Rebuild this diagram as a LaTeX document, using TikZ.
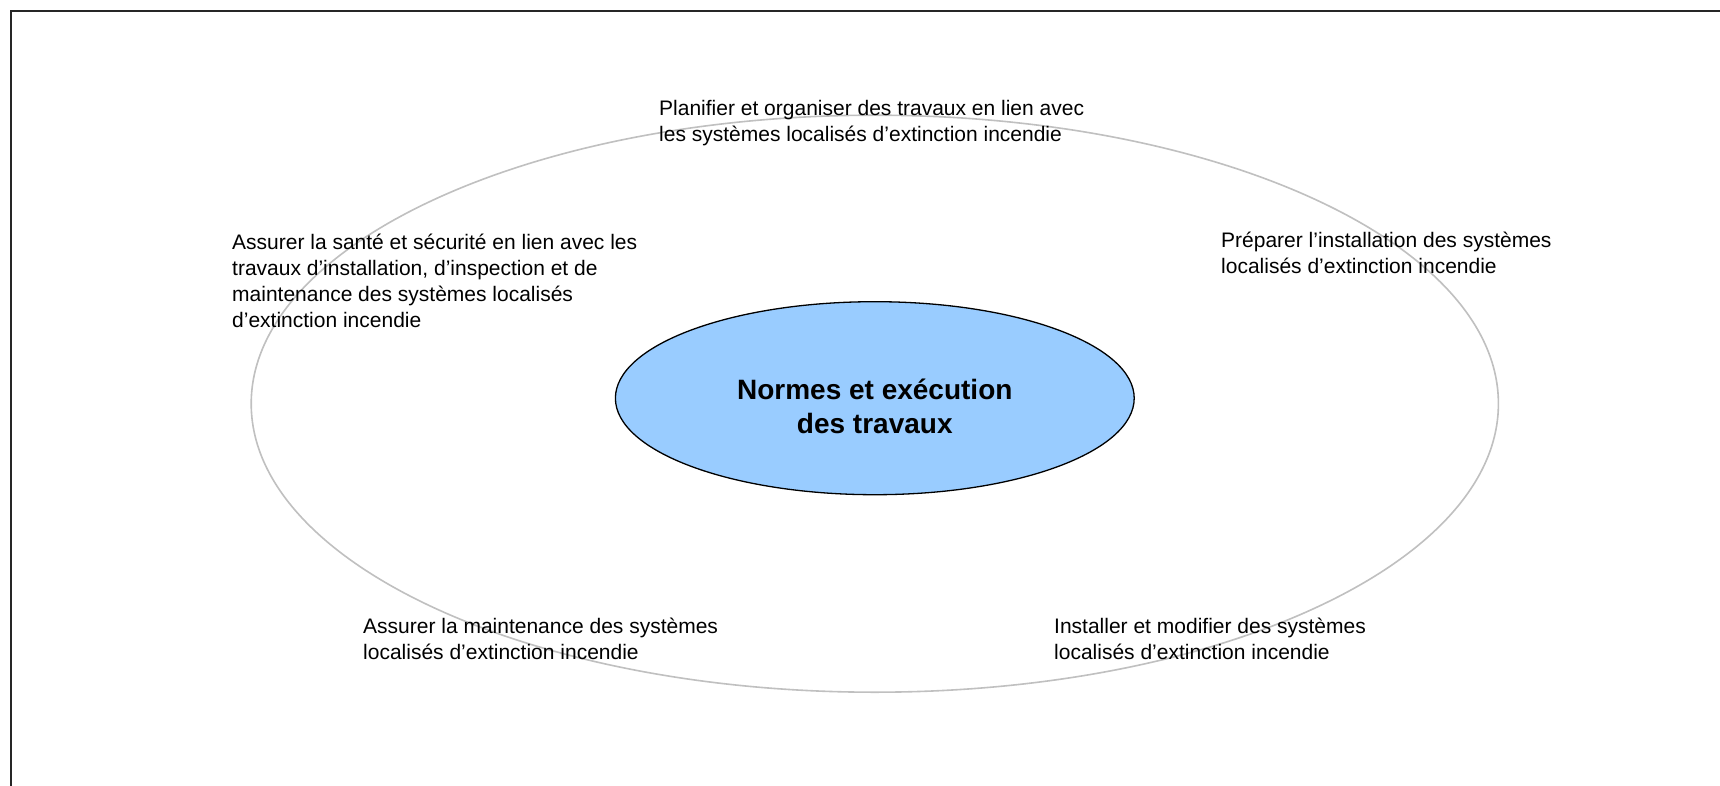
\documentclass[tikz,border=0pt]{standalone}
\usepackage{fontspec}
\setmainfont{Liberation Sans}
\usetikzlibrary{shapes.geometric}
\definecolor{coreblue}{HTML}{99CCFF}
\definecolor{ringgray}{HTML}{C0C0C0}
\begin{document}
\begin{tikzpicture}[x=1pt,y=-1pt,
  lbl/.style={font=\fontsize{21}{26}\selectfont, align=left, anchor=base west, inner sep=0pt},
  corelbl/.style={font=\fontsize{28}{34}\selectfont\bfseries, align=center, inner sep=0pt}]
\useasboundingbox (0,0) rectangle (1720,786);
\fill[white] (0,0) rectangle (1720,786);
% frame (open at right and bottom)
\draw[line width=2pt, black!85] (11,786) -- (11,11.5) -- (1720,11.5);
% outer ring
\draw[ringgray, line width=1.6pt] (874.8,403.7) ellipse [x radius=623.6, y radius=288.5];
% core ellipse
\node[ellipse, draw=black, line width=1.3pt, fill=coreblue, minimum width=518.8pt, minimum height=193pt, inner sep=0pt] (core) at (874.8,398.2) {};
\node[corelbl] (coretext) at (874.8,406) {Normes et exécution\\des travaux};
% labels (anchor = baseline of the last line)
\node[lbl] (plan) at (659,142) {Planifier et organiser des travaux en lien avec\\les systèmes localisés d’extinction incendie};
\node[lbl] (prep) at (1221,273) {Préparer l’installation des systèmes\\localisés d’extinction incendie};
\node[lbl] (sante) at (232,327) {Assurer la santé et sécurité en lien avec les\\travaux d’installation, d’inspection et de\\maintenance des systèmes localisés\\d’extinction incendie};
\node[lbl] (maint) at (363,659) {Assurer la maintenance des systèmes\\localisés d’extinction incendie};
\node[lbl] (inst) at (1054,659) {Installer et modifier des systèmes\\localisés d’extinction incendie};
\end{tikzpicture}
\end{document}
